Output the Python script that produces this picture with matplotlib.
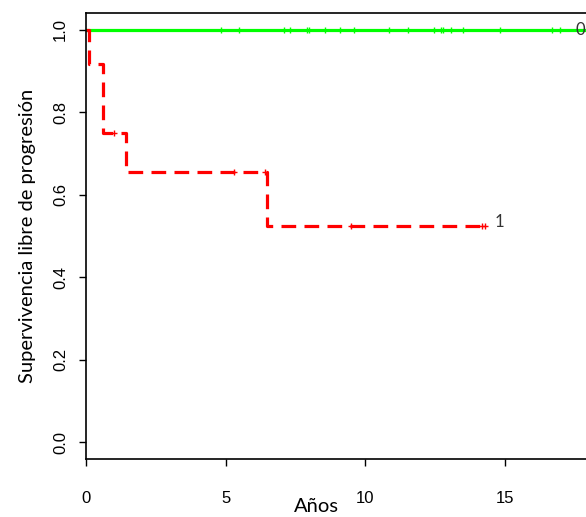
import numpy as np
import matplotlib.pyplot as plt

# Curvas de Kaplan-Meier por grupo (tiempo en años)
t_grupo1 = [0.0, 0.1, 0.6, 1.43, 6.5, 14.3]
s_grupo1 = [1.0, 0.917, 0.75, 0.656, 0.525, 0.525]
cens_t1 = [1.0, 5.3, 6.4, 9.5, 14.2, 14.3]
cens_s1 = [0.75, 0.656, 0.656, 0.525, 0.525, 0.525]

t_grupo0 = [0.0, 17.9]
s_grupo0 = [1.0, 1.0]
cens_t0 = [4.84, 5.48, 7.10, 7.31, 7.91, 7.97, 8.57, 9.10, 9.61, 10.87,
           11.55, 12.48, 12.72, 12.80, 13.08, 13.49, 14.84, 16.69, 16.99]

xticks = [0, 5, 10, 15]
yticks = [0.0, 0.2, 0.4, 0.6, 0.8, 1.0]

fig = plt.figure(figsize=(5.86, 5.17), dpi=100)
ax = fig.add_axes([86 / 586, 58 / 517, 1 - 86 / 586 + 0.01, (459 - 13) / 517])

ax.step(t_grupo0, s_grupo0, where="post", color="#00ff00", lw=2.3)
ax.plot(cens_t0, [1.0] * len(cens_t0), ls="none", marker="|", ms=5,
        mew=1, color="#00ff00")

ax.step(t_grupo1, s_grupo1, where="post", color="#ff0000", lw=2.3,
        dashes=(4.6, 2.6))
ax.plot(cens_t1, cens_s1, ls="none", marker="+", ms=5, mew=1,
        color="#ff0000")

ax.text(17.55, 1.0, "0", fontsize=12, family="Lato", color="#333333",
        va="center", ha="left")
ax.text(14.65, 0.535, "1", fontsize=12, family="Lato", color="#333333",
        va="center", ha="left")

ax.set_xlim(0, 18.12)
ax.set_ylim(-0.04, 1.04)
ax.set_xticks(xticks)
ax.set_yticks(yticks)
ax.set_xticklabels([str(v) for v in xticks], family="Liberation Sans",
                   fontsize=12)
ax.set_yticklabels([f"{v:.1f}" for v in yticks], family="Liberation Sans",
                   fontsize=12, rotation=90, va="center")
ax.tick_params(axis="x", length=5, width=1, pad=18)
ax.tick_params(axis="y", length=5, width=1, pad=8)
ax.spines["right"].set_visible(False)
for s in ["left", "bottom", "top"]:
    ax.spines[s].set_linewidth(1.2)

ax.set_xlabel("Años", family="Lato", fontsize=14.5)
ax.xaxis.set_label_coords(0.455, -0.088)
ax.set_ylabel("Supervivencia libre de progresión", family="Lato",
              fontsize=14.5, labelpad=12)

fig.savefig("out.png", dpi=100)
